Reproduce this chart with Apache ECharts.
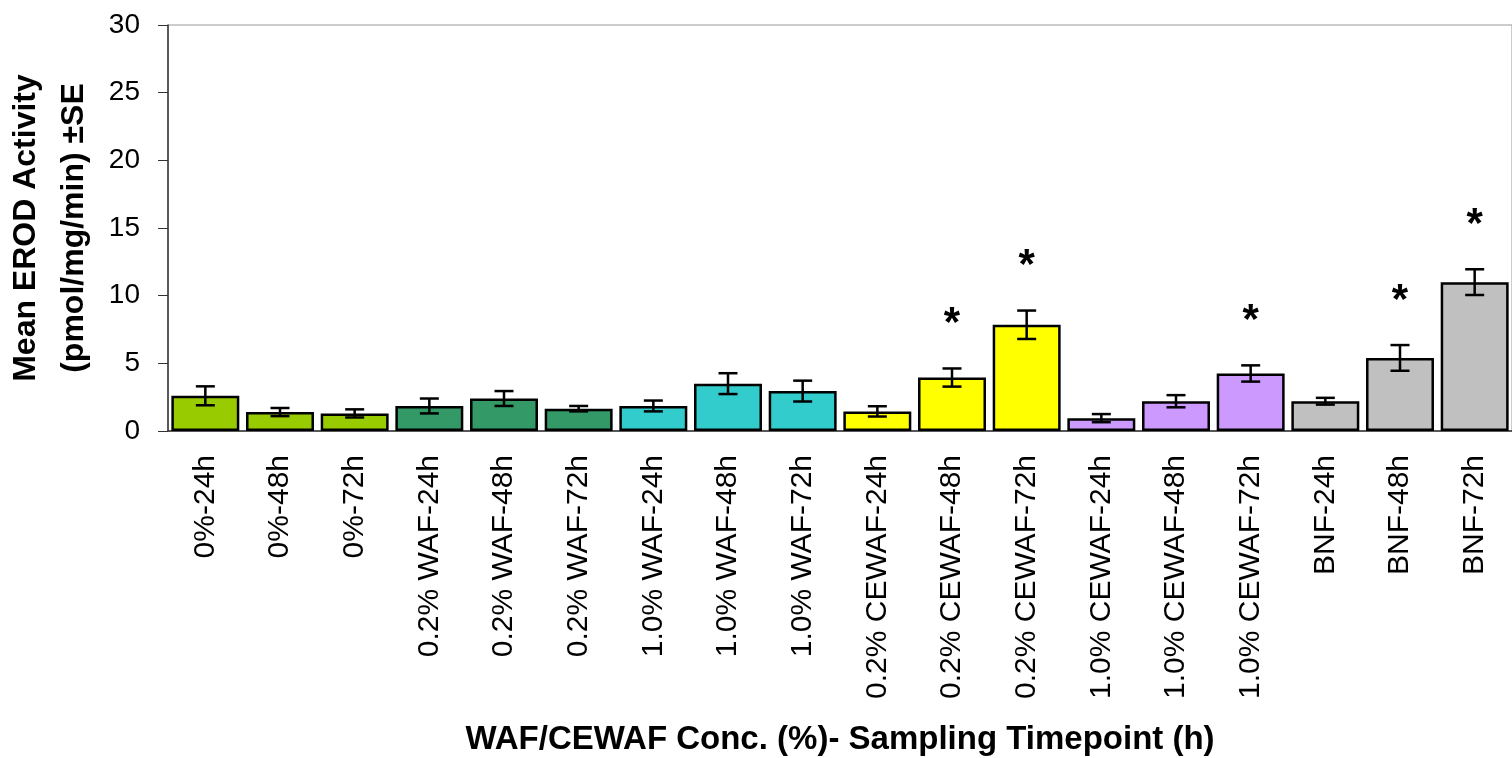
<!DOCTYPE html>
<html>
<head>
<meta charset="utf-8">
<script src="https://cdn.jsdelivr.net/npm/echarts@6/dist/echarts.min.js"></script>
<style>html,body{margin:0;padding:0;background:#fff}#c{width:1512px;height:758px}</style>
</head>
<body>
<div id="c"></div>
<script>
const categories = ['0%-24h','0%-48h','0%-72h','0.2% WAF-24h','0.2% WAF-48h','0.2% WAF-72h','1.0% WAF-24h','1.0% WAF-48h','1.0% WAF-72h','0.2% CEWAF-24h','0.2% CEWAF-48h','0.2% CEWAF-72h','1.0% CEWAF-24h','1.0% CEWAF-48h','1.0% CEWAF-72h','BNF-24h','BNF-48h','BNF-72h'];
const means = [2.6,1.4,1.3,1.85,2.4,1.65,1.85,3.5,2.95,1.45,3.95,7.85,0.95,2.2,4.25,2.2,5.4,11.0];
const errors = [0.7,0.3,0.3,0.55,0.55,0.2,0.4,0.77,0.77,0.38,0.67,1.05,0.3,0.45,0.6,0.25,0.95,0.95];
const significant = [0,0,0,0,0,0,0,0,0,0,1,1,0,0,1,0,1,1];
const yTicks = [0,5,10,15,20,25,30];

const palette = ['#99CC00','#339966','#33CCCC','#FFFF00','#CC99FF','#C0C0C0'];
const FONT = '"Liberation Sans", Arial, sans-serif';

const chart = echarts.init(document.getElementById('c'));
chart.setOption({
  animation: false,
  grid: {left: 168, right: 0, top: 25, bottom: 327, containLabel: false, outerBoundsMode: 'none',
         show: true, borderColor: '#999', borderWidth: 1},
  xAxis: {
    type: 'category', data: categories,
    axisLine: {lineStyle: {color: '#333', width: 1.5}},
    axisTick: {length: 10, lineStyle: {color: '#333'}},
    axisLabel: {rotate: 90, interval: 0, margin: 24, fontFamily: FONT, fontSize: 30, color: '#000'},
    name: 'WAF/CEWAF Conc. (%)- Sampling Timepoint (h)',
    nameLocation: 'middle', nameGap: 292,
    nameTextStyle: {fontFamily: FONT, fontSize: 33, fontWeight: 'bold', color: '#000'}
  },
  yAxis: {
    type: 'value', min: yTicks[0], max: yTicks[yTicks.length-1], interval: 5,
    splitLine: {show: false},
    axisLine: {show: true, lineStyle: {color: '#333', width: 1.5}},
    axisTick: {show: true, length: 10, lineStyle: {color: '#333'}},
    axisLabel: {margin: 28, fontFamily: FONT, fontSize: 28, color: '#000'},
    name: 'Mean EROD Activity\n(pmol/mg/min) ±SE',
    nameLocation: 'middle', nameRotate: 90, nameGap: 70,
    nameTextStyle: {fontFamily: FONT, fontSize: 32, fontWeight: 'bold', color: '#000', lineHeight: 48}
  },
  series: [
    {
      type: 'bar', barCategoryGap: '9%',
      data: means.map((v, i) => ({value: v, itemStyle: {color: palette[Math.floor(i / 3)]}})),
      itemStyle: {borderColor: '#000', borderWidth: 2.5}
    },
    {
      type: 'custom',
      data: means.map((v, i) => [i, v - errors[i], v + errors[i]]),
      renderItem: function (params, api) {
        const lo = api.coord([api.value(0), api.value(1)]);
        const hi = api.coord([api.value(0), api.value(2)]);
        const x = lo[0], hw = 9.5;
        const st = {stroke: '#000', lineWidth: 2.5};
        return {type: 'group', children: [
          {type: 'line', shape: {x1: x, y1: lo[1], x2: x, y2: hi[1]}, style: st},
          {type: 'line', shape: {x1: x - hw, y1: lo[1], x2: x + hw, y2: lo[1]}, style: st},
          {type: 'line', shape: {x1: x - hw, y1: hi[1], x2: x + hw, y2: hi[1]}, style: st}
        ]};
      },
      z: 5
    },
    {
      type: 'custom',
      data: means.map((v, i) => [i, v + errors[i], significant[i]]),
      renderItem: function (params, api) {
        if (!api.value(2)) return null;
        const p = api.coord([api.value(0), api.value(1)]);
        return {type: 'text', x: p[0], y: p[1] - 44,
          style: {text: '*', fontFamily: FONT, fontSize: 42, fontWeight: 'bold', fill: '#000', align: 'center', verticalAlign: 'middle'}};
      },
      z: 6
    }
  ]
});
</script>
</body>
</html>
